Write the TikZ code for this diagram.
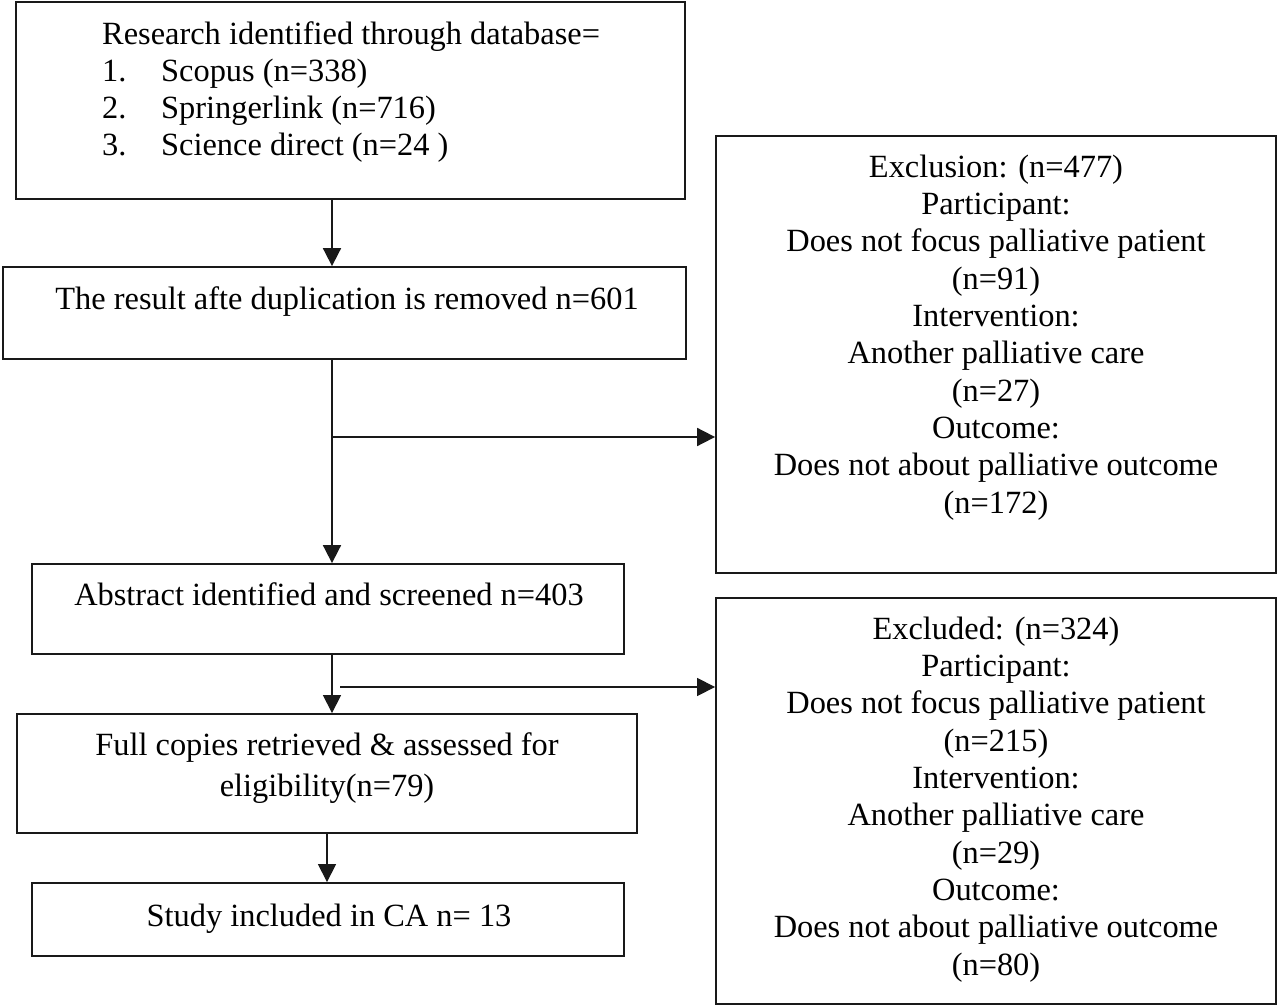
\documentclass[tikz,border=0pt]{standalone}
\usepackage{fontspec}
\setmainfont{Liberation Serif}
\usetikzlibrary{arrows.meta,calc}
\begin{document}
\begin{tikzpicture}[x=1pt,y=-1pt,
  box/.style={draw=black!90, line width=1.8pt, inner sep=0pt, rectangle},
  txt/.style={inner sep=0pt, align=center, font=\fontsize{32.4}{37.3}\selectfont},
  arr/.style={line width=1.8pt, draw=black!90, -{Triangle[length=18pt,width=18pt]}},
  tarr/.style={line width=1.2pt, draw=black!90, -{Triangle[length=18pt,width=18pt]}}]
\useasboundingbox[fill=white] (0,0) rectangle (1280,1008);
% boxes
\node[box, minimum width=669pt, minimum height=197pt] (b1) at (350.5,100.5) {};
\node[box, minimum width=683pt, minimum height=92pt] (b2) at (344.5,313) {};
\node[box, minimum width=592pt, minimum height=90pt] (b3) at (328,609) {};
\node[box, minimum width=620pt, minimum height=119pt] (b4) at (327,773.5) {};
\node[box, minimum width=592pt, minimum height=73pt] (b5) at (328,919.5) {};
\node[box, minimum width=560pt, minimum height=437pt] (ex1) at (996,354.5) {};
\node[box, minimum width=560pt, minimum height=406pt] (ex2) at (996,801) {};
% texts (anchor=base is the baseline of the last line)
\node[txt, align=left, anchor=base west] (t1) at (102,156)
 {Research identified through database=\\
  \makebox[59pt][l]{1.}Scopus (n=338)\\
  \makebox[59pt][l]{2.}Springerlink (n=716)\\
  \makebox[59pt][l]{3.}Science direct (n=24 )};
\node[txt, anchor=base] (t2) at (347,310) {The result afte duplication is removed n=601};
\node[txt, anchor=base] (t3) at (329,605) {Abstract identified and screened n=403};
\node[txt, anchor=base, font=\fontsize{32.4}{41}\selectfont] (t4) at (327,796) {Full copies retrieved \& assessed for\\eligibility(n=79)};
\node[txt, anchor=base] (t5) at (329,926) {Study included in CA n= 13};
\node[txt, anchor=base] (te1) at (996,513)
 {Exclusion: (n=477)\\Participant:\\Does not focus palliative patient\\(n=91)\\Intervention:\\Another palliative care\\(n=27)\\Outcome:\\Does not about palliative outcome\\(n=172)};
\node[txt, anchor=base] (te2) at (996,975)
 {Excluded: (n=324)\\Participant:\\Does not focus palliative patient\\(n=215)\\Intervention:\\Another palliative care\\(n=29)\\Outcome:\\Does not about palliative outcome\\(n=80)};
% connectors
\coordinate (ax) at (332,0);
\coordinate (ax2) at (327,0);
\coordinate (j1) at (332,437);
\coordinate (j2) at (340,687);
\draw[arr] (b1.south -| ax) -- (b2.north -| ax);
\draw[arr] (b2.south -| ax) -- (b3.north -| ax);
\draw[arr] (j1) -- (j1 -| ex1.west);
\draw[tarr] (b3.south -| ax) -- (b4.north -| ax);
\draw[tarr] (j2) -- (j2 -| ex2.west);
\draw[tarr] (b4.south -| ax2) -- (b5.north -| ax2);
\end{tikzpicture}
\end{document}
